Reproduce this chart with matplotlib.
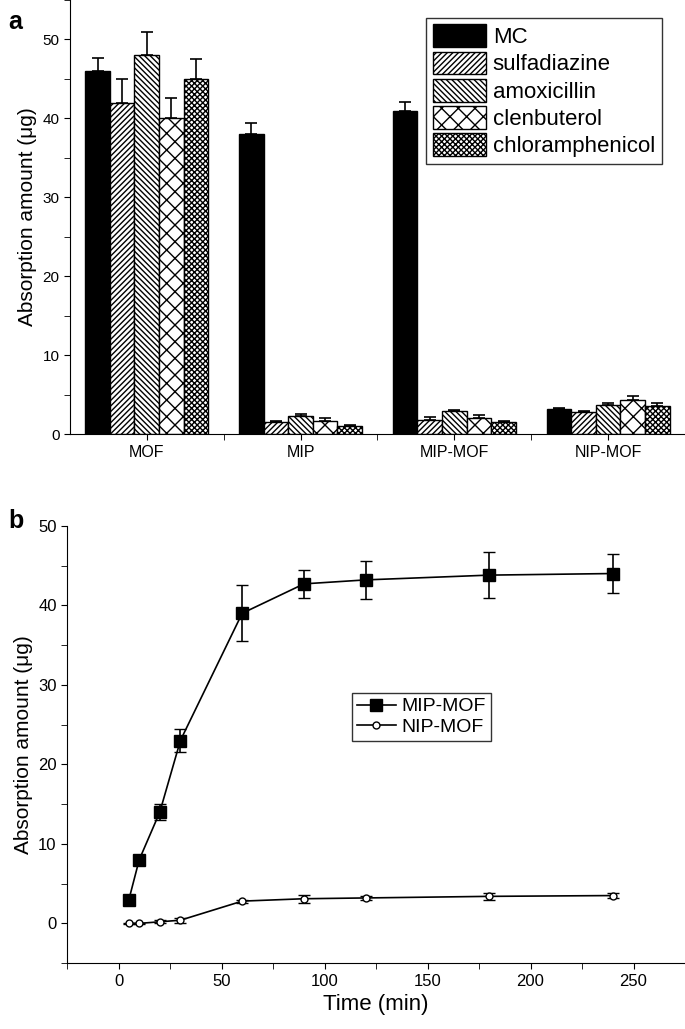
import numpy as np
import matplotlib
matplotlib.use('Agg')
import matplotlib.pyplot as plt

plt.rcParams['font.family'] = ['Liberation Sans', 'DejaVu Sans']
plt.rcParams['hatch.linewidth'] = 1.0

# panel a data
grupos = ['MOF', 'MIP', 'MIP-MOF', 'NIP-MOF']
analitos = ['MC', 'sulfadiazine', 'amoxicillin', 'clenbuterol', 'chloramphenicol']
mc = [46, 38, 41, 3.2]
mc_err = [1.7, 1.4, 1.1, 0.1]
sulfadiazine = [42, 1.5, 1.8, 2.8]
sulfadiazine_err = [3.0, 0.2, 0.4, 0.2]
amoxicillin = [48, 2.3, 2.9, 3.7]
amoxicillin_err = [3.0, 0.3, 0.2, 0.3]
clenbuterol = [40, 1.7, 2.1, 4.3]
clenbuterol_err = [2.6, 0.3, 0.3, 0.5]
chloramphenicol = [45, 1.0, 1.6, 3.6]
chloramphenicol_err = [2.5, 0.2, 0.1, 0.3]

# panel b data
tiempo = [5, 10, 20, 30, 60, 90, 120, 180, 240]
mip_mof = [3, 8, 14, 23, 39, 42.7, 43.2, 43.8, 44]
mip_mof_err = [0.5, 0.3, 1.0, 1.5, 3.5, 1.8, 2.4, 2.9, 2.5]
nip_mof = [0, 0, 0.2, 0.4, 2.8, 3.1, 3.2, 3.4, 3.5]
nip_mof_err = [0.1, 0.1, 0.2, 0.3, 0.2, 0.5, 0.3, 0.4, 0.3]

fig = plt.figure(figsize=(6.85, 10.29), dpi=100)

# ---- panel a
ax1 = fig.add_axes([0.102, 0.578, 0.898, 0.422])
series = [mc, sulfadiazine, amoxicillin, clenbuterol, chloramphenicol]
errores = [mc_err, sulfadiazine_err, amoxicillin_err, clenbuterol_err, chloramphenicol_err]
hatches = [None, '//////', '\\\\\\\\\\\\', 'xx', 'xxxxxx']
caras = ['black', 'white', 'white', 'white', 'white']
x = np.arange(len(grupos))
w = 0.16
for i in range(5):
    pos = x + (i - 2) * w
    ax1.bar(pos, series[i], w, color=caras[i], edgecolor='black', hatch=hatches[i],
            linewidth=1.0, label=analitos[i],
            yerr=[np.zeros(4), errores[i]], error_kw=dict(ecolor='black', capsize=4, elinewidth=1.2, capthick=1.2))
ax1.set_xlim(-0.5, 3.5)
ax1.set_ylim(0, 55)
ax1.set_xticks(x)
ax1.set_xticklabels(grupos, fontsize=11.5)
ax1.set_xticks([0.5, 1.5, 2.5], minor=True)
ax1.set_yticks([0, 10, 20, 30, 40, 50])
ax1.set_yticks([5, 15, 25, 35, 45, 55], minor=True)
ax1.tick_params(axis='y', labelsize=11)
ax1.tick_params(which='both', direction='out', length=4)
ax1.spines['top'].set_visible(False)
ax1.spines['right'].set_visible(False)
ax1.set_ylabel('Absorption amount (μg)', fontsize=15)
leg = ax1.legend(loc='upper right', bbox_to_anchor=(0.98, 0.985), fontsize=16, frameon=True, fancybox=False,
                 edgecolor='black', handlelength=2.4, handleheight=1.2, handletextpad=0.3,
                 labelspacing=0.15, borderpad=0.3)
leg.get_frame().set_linewidth(1.0)
fig.text(0.012, 0.99, 'a', fontsize=18, fontweight='bold', va='top')

# ---- panel b
ax2 = fig.add_axes([0.098, 0.064, 0.902, 0.425])
ax2.errorbar(tiempo, mip_mof, yerr=mip_mof_err, color='black', marker='s', markersize=8,
             linewidth=1.2, capsize=4, elinewidth=1.2)
ax2.errorbar(tiempo, nip_mof, yerr=nip_mof_err, color='black', marker='o', markersize=5,
             markerfacecolor='white', linewidth=1.2, capsize=4, elinewidth=1.2)
h1, = ax2.plot([], [], color='black', marker='s', markersize=8, linewidth=1.2, label='MIP-MOF')
h2, = ax2.plot([], [], color='black', marker='o', markersize=5, markerfacecolor='white',
               linewidth=1.2, label='NIP-MOF')
ax2.set_xlim(-25, 275)
ax2.set_ylim(-5, 50)
ax2.set_xticks([0, 50, 100, 150, 200, 250])
ax2.set_xticks([-25, 25, 75, 125, 175, 225, 275], minor=True)
ax2.set_yticks([0, 10, 20, 30, 40, 50])
ax2.set_yticks([-5, 5, 15, 25, 35, 45], minor=True)
ax2.tick_params(labelsize=12)
ax2.tick_params(which='both', direction='out', length=4)
ax2.spines['top'].set_visible(False)
ax2.spines['right'].set_visible(False)
ax2.set_ylabel('Absorption amount (μg)', fontsize=15)
ax2.set_xlabel('Time (min)', fontsize=16)
leg2 = ax2.legend(handles=[h1, h2], loc='upper left', bbox_to_anchor=(0.445, 0.64), fontsize=14,
                  frameon=True, fancybox=False, edgecolor='black', handlelength=2.0, handletextpad=0.3,
                  labelspacing=0.15, borderpad=0.25)
leg2.get_frame().set_linewidth(1.0)
fig.text(0.012, 0.505, 'b', fontsize=18, fontweight='bold', va='top')

plt.savefig('out.png', dpi=100)
